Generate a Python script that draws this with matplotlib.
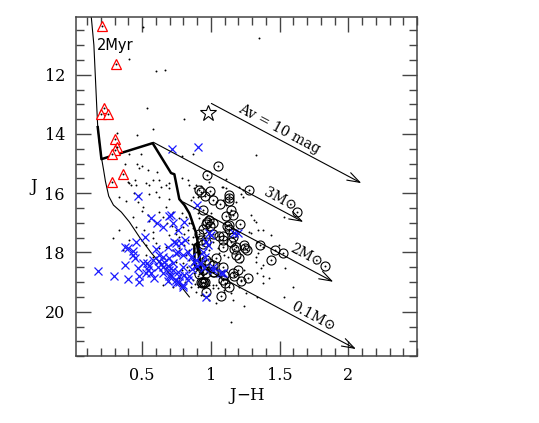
import numpy as np
import matplotlib
matplotlib.use("Agg")
import matplotlib.pyplot as plt
from matplotlib.ticker import MultipleLocator

plt.rcParams['font.family'] = ['DejaVu Serif', 'DejaVu Sans']
plt.rcParams['mathtext.fontset'] = 'dejavuserif'

# --- data (J-H, J) ---
# 2 Myr isochrone (thin)
iso_jh = [0.130, 0.150, 0.160, 0.170, 0.178, 0.190, 0.207, 0.220, 0.234, 0.258, 0.292,
          0.350, 0.408, 0.481, 0.568, 0.662, 0.757, 0.844]
iso_j = [10.0, 11.0, 12.0, 13.0, 13.77, 14.30, 14.85, 15.20, 15.60, 16.10, 16.40,
         16.64, 16.97, 17.48, 18.02, 18.52, 18.99, 19.50]

# thick track
trk_jh = [0.178, 0.205, 0.577, 0.711, 0.735, 0.771, 0.808, 0.844, 0.868, 0.893, 0.905,
          0.918, 0.922, 0.900, 0.882, 0.880, 0.898, 0.920, 0.935]
trk_j = [13.77, 14.85, 14.31, 15.32, 15.36, 16.20, 16.40, 16.68, 17.00, 17.35, 17.65,
         17.95, 18.50, 18.55, 18.40, 17.75, 17.70, 18.30, 18.70]

# reddening vectors: start points and common displacement
vec_start_jh = [1.004, 0.582, 0.800, 0.965]
vec_start_j = [12.97, 14.28, 16.30, 18.57]
vec_d_jh = 1.09
vec_d_j = 2.69
vec_labels = ['Av = 10 mag', '3M\u2299', '2M\u2299', '0.1M\u2299']
lab_jh = [1.497, 1.505, 1.690, 1.744]
lab_j = [13.82, 16.22, 18.10, 20.18]

# red triangles
tri_jh = [0.207, 0.311, 0.227, 0.202, 0.251, 0.306, 0.316, 0.300, 0.282, 0.365, 0.282]
tri_j = [10.35, 11.64, 13.12, 13.32, 13.32, 14.16, 14.44, 14.53, 14.69, 15.36, 15.62]

# open star
star_jh = [0.983]
star_j = [13.30]

# blue crosses
bx_jh = [0.718, 0.904, 0.473, 0.900, 0.566, 0.699, 0.606, 0.655, 0.519, 0.457,
         0.379, 0.432, 0.602, 0.686, 0.747, 0.815, 0.989, 1.171, 0.626, 0.699,
         0.759, 0.505, 0.379, 0.468, 0.553, 0.614, 0.650, 0.686, 0.795, 0.893,
         0.953, 1.013, 0.178, 0.299, 0.396, 0.476, 0.481, 0.590, 0.529, 0.650,
         0.699, 0.747, 0.800, 0.844, 1.086, 0.965, 0.577, 0.662, 0.723, 0.711,
         0.723, 0.808, 0.759, 1.001, 1.195, 0.735, 0.784, 0.965, 0.977, 0.747,
         0.795, 0.832, 0.856, 0.940, 0.960, 0.880, 0.929, 0.759, 0.771, 0.808,
         0.832, 0.747, 0.711, 1.013, 1.074, 0.723, 0.396, 0.432, 0.566, 0.534,
         0.650, 0.699, 0.771, 0.795, 0.620, 0.540, 0.450, 0.860, 0.900, 0.690]
bx_j = [14.52, 14.44, 16.10, 16.40, 16.82, 16.77, 17.00, 17.13, 17.47, 17.64,
        17.81, 17.95, 17.89, 17.81, 17.69, 17.58, 17.35, 17.35, 18.08, 18.19,
        17.97, 18.34, 18.42, 18.53, 18.45, 18.50, 18.50, 18.45, 18.50, 18.25,
        18.53, 18.50, 18.61, 18.81, 18.90, 18.81, 18.98, 18.85, 18.68, 18.70,
        18.59, 19.02, 19.09, 18.81, 18.70, 19.49, 18.25, 18.31, 18.36, 16.74,
        17.02, 16.96, 17.24, 17.41, 17.33, 17.64, 17.69, 17.64, 17.75, 18.03,
        18.08, 17.97, 18.14, 17.97, 18.14, 18.31, 18.36, 18.65, 18.81, 18.76,
        18.92, 18.92, 18.81, 18.59, 18.70, 18.59, 17.86, 18.08, 18.70, 18.36,
        18.14, 18.81, 18.98, 19.15, 18.30, 18.60, 18.20, 18.55, 18.45, 18.95]

# open circles with dot
oc_jh = [1.049, 0.970, 1.275, 0.917, 0.994, 1.135, 1.135, 1.135, 1.018, 1.067,
         0.960, 1.623, 1.110, 1.158, 1.130, 1.212, 1.147, 1.158, 1.086, 1.250,
         1.262, 1.243, 1.357, 1.468, 1.527, 1.437, 1.183, 1.207, 1.158, 1.170,
         1.267, 1.219, 1.129, 1.074, 0.965, 0.930, 0.946, 0.960, 1.025, 1.098,
         0.940, 0.990, 0.970, 1.015, 0.995, 0.965, 1.120, 1.130, 0.940, 0.917,
         1.013, 1.062, 1.158, 0.930, 0.965, 0.940, 1.086, 1.086, 1.147, 1.183,
         1.170, 1.038, 0.965, 0.990, 1.013, 1.086, 1.195, 0.940, 0.917, 0.965,
         1.013, 1.086, 1.105, 0.953, 0.933, 1.829, 0.930]
oc_j = [15.09, 15.40, 15.88, 15.90, 15.92, 16.05, 16.15, 16.25, 16.24, 16.37,
        16.10, 16.63, 16.77, 16.74, 17.08, 17.04, 16.57, 17.47, 17.45, 17.85,
        17.92, 17.75, 17.76, 17.92, 18.03, 18.25, 18.08, 18.20, 18.68, 18.81,
        18.87, 18.95, 19.15, 19.46, 19.32, 19.00, 19.00, 19.00, 18.65, 18.76,
        16.57, 16.90, 16.97, 17.02, 17.12, 17.04, 17.12, 17.20, 17.22, 17.36,
        17.36, 17.45, 17.33, 17.58, 17.64, 17.71, 17.58, 17.80, 17.64, 17.80,
        17.89, 18.20, 18.25, 18.34, 18.42, 18.48, 18.59, 18.59, 18.72, 18.70,
        18.65, 18.92, 19.04, 19.04, 19.02, 18.45, 15.97]

# small black dots
dot_jh = [0.509, 1.352, 0.408, 0.602, 0.670, 0.534, 0.803, 0.582, 0.464, 0.316,
          0.873, 0.788, 1.328, 0.408, 0.493, 0.379, 0.464, 0.481, 0.500, 0.541,
          0.606, 0.452, 0.577, 0.626, 0.694, 0.403, 0.420, 0.335, 0.553, 0.602,
          0.638, 0.989, 1.110, 1.231, 1.013, 0.893, 0.873, 0.929,
          1.207, 1.219, 1.231, 1.081, 1.110, 1.534, 1.328, 1.376, 1.292, 1.437,
          1.333, 1.376, 1.497, 1.328, 1.376, 1.333, 1.376, 1.541, 1.594, 1.534,
          1.333, 1.158, 1.255, 1.207, 1.098, 1.049, 1.013, 1.062,
          0.396, 0.457, 0.529, 0.675, 0.699, 0.481, 0.553, 0.626, 0.699, 0.505,
          0.675, 0.432, 0.541, 0.626, 0.723, 0.771, 0.795, 0.832, 0.856, 0.457,
          0.517, 0.577, 0.699, 0.747, 0.408, 0.529, 0.602, 0.675, 0.723, 0.771,
          0.808, 0.832, 0.844, 0.795, 0.747, 0.699, 0.638, 0.808, 0.771, 0.699,
          0.650, 0.723, 0.868, 0.856, 0.893, 0.929, 0.989, 1.038, 0.335, 0.287,
          0.360, 0.577, 0.529,
          0.794, 0.831, 0.844, 0.880, 0.904, 0.856, 0.794, 0.820, 0.844, 0.868,
          0.904, 0.917, 0.940, 0.965, 0.984, 1.001, 0.747, 0.771, 0.808, 0.832,
          0.868, 0.893, 0.904, 0.929, 0.953, 0.989, 1.013, 0.844, 0.880, 0.904,
          0.929, 0.953, 0.989, 0.868, 0.893, 0.917, 0.940, 0.977, 1.001, 0.844,
          0.880, 0.904, 0.929, 1.038, 1.062, 0.989, 1.013, 1.038, 1.098, 1.147,
          1.292, 1.316, 1.340, 1.280, 1.049, 1.062, 1.098, 1.122, 1.340, 1.328,
          1.364, 1.376, 1.425, 1.219, 1.243, 1.170, 1.219, 1.086, 1.110, 1.183,
          1.086,
          0.860, 0.875, 0.895, 0.915, 0.935, 0.950, 0.960, 0.875, 0.860, 0.900,
          0.920, 0.945, 0.970, 0.885, 0.910, 0.950, 0.820, 0.830, 0.810, 0.790,
          0.760, 0.740, 0.720, 0.680, 0.650, 0.600, 0.550, 0.500, 0.470, 0.440,
          0.380, 0.620, 0.580, 0.660, 1.150, 1.240]
dot_j = [10.39, 10.75, 11.47, 11.89, 11.83, 13.12, 13.51, 13.82, 14.03, 13.96,
         14.67, 14.75, 14.72, 14.69, 14.69, 15.00, 15.03, 15.14, 15.09, 15.23,
         15.30, 15.56, 15.56, 15.56, 15.67, 15.65, 15.73, 16.12, 15.73, 15.96,
         15.79, 15.62, 15.51, 15.90, 16.01, 15.73, 16.12, 15.76,
         15.79, 16.01, 16.12, 15.79, 15.84, 16.80, 16.96, 17.24, 17.35, 17.41,
         17.64, 17.80, 17.75, 18.14, 18.42, 18.68, 19.04, 18.53, 19.15, 19.51,
         19.51, 19.60, 19.37, 19.15, 19.32, 19.20, 19.09, 18.36,
         15.62, 15.73, 15.67, 15.73, 15.84, 16.07, 16.01, 16.12, 16.18, 16.46,
         16.46, 16.80, 16.74, 16.63, 16.63, 16.85, 17.13, 17.24, 17.02, 17.13,
         17.24, 17.30, 17.41, 17.36, 17.58, 17.75, 17.69, 17.80, 17.92, 17.86,
         17.75, 17.97, 18.25, 18.36, 18.31, 18.42, 18.36, 18.76, 18.87, 18.98,
         19.09, 19.15, 18.92, 19.15, 19.32, 19.43, 19.60, 19.71, 17.24, 17.52,
         17.92, 18.14, 18.08,
         15.50, 15.56, 15.73, 15.84, 16.12, 16.24, 16.68, 16.80, 17.02, 17.19,
         16.68, 16.85, 16.91, 16.80, 16.85, 16.68, 17.24, 17.47, 17.36, 17.58,
         17.47, 17.30, 17.47, 17.24, 17.41, 17.52, 17.64, 17.92, 18.03, 18.14,
         18.03, 17.97, 17.92, 18.25, 18.36, 18.31, 18.42, 18.48, 18.59, 18.59,
         18.70, 18.81, 18.87, 18.81, 18.98, 19.09, 19.20, 19.09, 19.26, 19.37,
         16.74, 16.91, 17.24, 17.30, 17.86, 18.03, 18.08, 18.14, 18.03, 18.31,
         18.53, 18.81, 18.87, 18.31, 18.59, 18.76, 18.92, 16.24, 16.40, 16.29,
         15.79,
         17.70, 17.85, 18.00, 18.10, 18.20, 18.30, 18.45, 18.50, 18.40, 18.55,
         18.65, 18.75, 18.90, 19.05, 19.15, 19.20, 18.10, 18.50, 19.00, 18.60,
         18.10, 17.60, 17.10, 17.00, 16.80, 17.00, 16.95, 16.60, 16.30, 16.00,
         16.25, 17.85, 17.50, 18.20, 20.34, 19.80]

x_ticks = [0.5, 1.0, 1.5, 2.0]
x_ticklabels = ['0.5', '1', '1.5', '2']
y_ticks = [12, 14, 16, 18, 20]
y_ticklabels = ['12', '14', '16', '18', '20']

# --- plot ---
fig = plt.figure(figsize=(5.39, 4.23), dpi=100)
ax = fig.add_axes([0.141, 0.158, 0.633, 0.802])

ax.plot(iso_jh, iso_j, color='black', lw=0.8)
ax.plot(trk_jh, trk_j, color='black', lw=1.8)

ax.plot(dot_jh, dot_j, 'o', color='black', ms=1.4, mew=0)

ax.plot(oc_jh, oc_j, 'o', mfc='none', mec='black', ms=6.5, mew=0.8)
ax.plot(oc_jh, oc_j, 'o', color='black', ms=1.4, mew=0)

ax.plot(bx_jh, bx_j, 'x', color='#1a1aff', ms=5.5, mew=0.9)

ax.plot(tri_jh, tri_j, '^', mfc='white', mec='red', ms=7.5, mew=0.9)
ax.plot(tri_jh, tri_j, 'o', color='black', ms=1.4, mew=0)

ax.plot(star_jh, star_j, '*', mfc='white', mec='black', ms=12, mew=0.8)

for sx, sy in zip(vec_start_jh, vec_start_j):
    ax.annotate('', xy=(sx + vec_d_jh, sy + vec_d_j), xytext=(sx, sy),
                arrowprops=dict(arrowstyle='->,head_length=0.9,head_width=0.3',
                                color='black', lw=0.8, shrinkA=0, shrinkB=0))

for txt, lx, ly in zip(vec_labels, lab_jh, lab_j):
    ax.text(lx, ly, txt, rotation=-28, ha='center', va='center', fontsize=10,
            rotation_mode='anchor', family=['DejaVu Serif', 'DejaVu Sans'])

ax.text(0.307, 11.03, '2Myr', family='DejaVu Sans', fontsize=10.5, ha='center', va='center')

ax.set_xlim(0.02, 2.5)
ax.set_ylim(21.5, 10.05)
ax.set_xticks(x_ticks)
ax.set_xticklabels(x_ticklabels)
ax.set_yticks(y_ticks)
ax.set_yticklabels(y_ticklabels)
ax.xaxis.set_minor_locator(MultipleLocator(0.1))
ax.yaxis.set_minor_locator(MultipleLocator(0.5))
ax.tick_params(which='both', direction='in', top=True, right=True, color='#444444',
               labelsize=11.5, pad=8)
ax.tick_params(which='major', length=11, width=1.0)
ax.tick_params(which='minor', length=5.5, width=1.0)
for s in ax.spines.values():
    s.set_color('#444444')
    s.set_linewidth(1.1)

ax.set_xlabel('J$-$H', fontsize=12, labelpad=1)
ax.set_ylabel('J', fontsize=12, rotation=0, labelpad=8, va='center')

fig.savefig('out.png', dpi=100)
